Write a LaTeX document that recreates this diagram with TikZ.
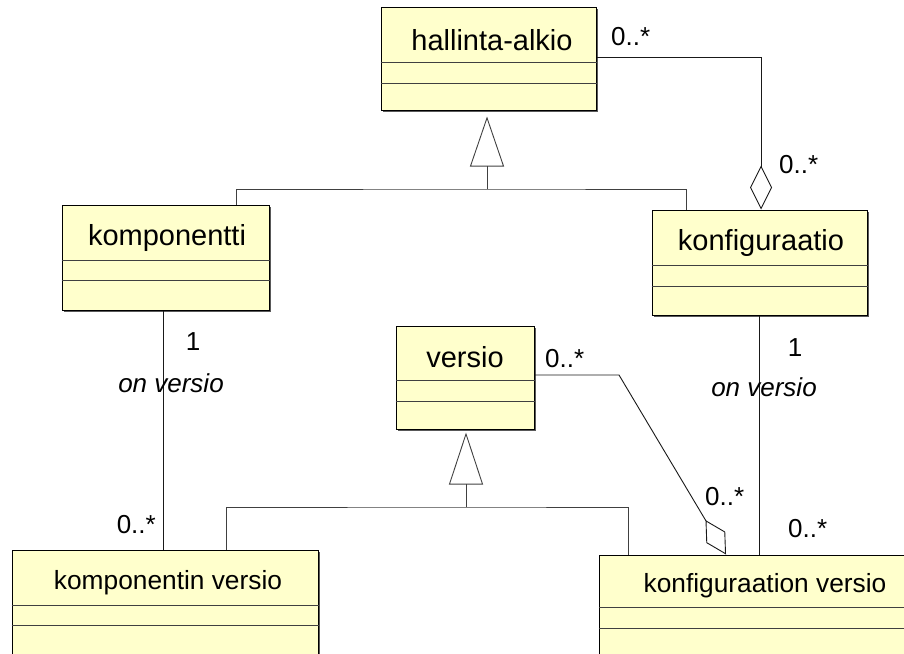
\documentclass[tikz,border=0pt]{standalone}
\usepackage{fontspec}
\setmainfont{Liberation Sans}
\usetikzlibrary{arrows.meta,shadows}

\definecolor{umlfill}{RGB}{255,255,204}

\tikzset{
  classbox/.style={draw=black, line width=1pt, fill=umlfill, inner sep=0pt,
    drop shadow={shadow xshift=1.5pt, shadow yshift=-1.5pt, opacity=1, fill=black!65}},
  compline/.style={draw=black!75, line width=0.9pt},
  classname/.style={anchor=base, inner sep=0pt, font=\fontsize{29}{35}\selectfont},
  smallname/.style={classname, font=\fontsize{26.3}{32}\selectfont},
  mult/.style={inner sep=0pt, font=\fontsize{26}{31}\selectfont},
  role/.style={inner sep=0pt, font=\fontsize{26}{31}\selectfont\itshape},
  assoc/.style={draw=black!90, line width=0.9pt},
  genline/.style={draw=black!75, line width=0.9pt},
}

% class box with two empty compartments: name, centre x, centre y, width, height, first and second divider offsets
\newcommand\umlclassbox[7]{%
  \node[classbox, minimum width=#4pt, minimum height=#5pt] (#1) at (#2,#3) {};
  \draw[compline] ([yshift=-#6pt]#1.north west) -- ([yshift=-#6pt]#1.north east);
  \draw[compline] ([yshift=-#7pt]#1.north west) -- ([yshift=-#7pt]#1.north east);
}

\begin{document}
\begin{tikzpicture}[x=1pt,y=-1pt]
\useasboundingbox (0,0) rectangle (904,653);

% classes
\umlclassbox{hal}{488.5}{58.5}{215}{103}{56}{77}
\umlclassbox{komp}{165.5}{257.5}{207}{105}{56}{76}
\umlclassbox{konf}{759.5}{262.5}{215}{105}{56}{77}
\umlclassbox{ver}{465}{377.5}{138}{103}{55}{76}
\umlclassbox{kver}{165}{625}{306}{150}{56}{76}
\umlclassbox{fver}{799.5}{627.5}{401}{145}{53}{74}

\node[classname] (halT) at (492,50) {hallinta-alkio};
\node[classname] (kompT) at (167,245) {komponentti};
\node[classname] (konfT) at (761,250) {konfiguraatio};
\node[classname] (verT) at (465,367) {versio};
\node[smallname] (kverT) at (168,589) {komponentin versio};
\node[smallname] (fverT) at (765,592) {konfiguraation versio};

% generalisation: komponentti, konfiguraatio -> hallinta-alkio
\coordinate (g1) at (236,0);
\coordinate (g2) at (686,0);
\coordinate (hj) at (487,189);
\draw[genline] (komp.north -| g1) |- (hj) -| (konf.north -| g2);
\draw[genline, -{Triangle[open, length=50pt, width=34pt]}, shorten >=6pt] (hj) -- (hj |- hal.south);

% generalisation: komponentin versio, konfiguraation versio -> versio
\coordinate (g3) at (226,0);
\coordinate (g4) at (628,0);
\coordinate (vj) at (466,507);
\draw[genline] (kver.north -| g3) |- (vj) -| (fver.north -| g4);
\draw[genline, -{Triangle[open, length=52pt, width=34pt]}, shorten >=3pt] (vj) -- (vj |- ver.south);

% associations
\coordinate (a1) at (163.5,0);
\draw[assoc] (komp.south -| a1) -- (kver.north -| a1);
\draw[assoc] (konf.south) -- (konf.south |- fver.north);
\draw[assoc, -{Diamond[open, length=44pt, width=22pt]}] ([yshift=1.5pt]hal.east) -| ([xshift=1.5pt]konf.north);
\coordinate (vb) at (619,375);
\coordinate (dt) at (726,0);
\draw[assoc, -{Diamond[open, length=40pt, width=22pt]}] ([yshift=2.5pt]ver.east) -- (vb) -- (fver.north -| dt);

% multiplicities and roles
\node[mult, anchor=base west] (m1) at (611,45) {0..*};
\node[mult, anchor=base west] (m2) at (779,173) {0..*};
\node[mult, anchor=base] (m3) at (193,350) {1};
\node[role, anchor=base] (r1) at (171,392) {on versio};
\node[mult, anchor=base] (m4) at (795,356) {1};
\node[role, anchor=base] (r2) at (764,396) {on versio};
\node[mult, anchor=base east] (m5) at (156,533) {0..*};
\node[mult, anchor=base west] (m6) at (545,367) {0..*};
\node[mult, anchor=base west] (m7) at (705,505) {0..*};
\node[mult, anchor=base west] (m8) at (788,537) {0..*};
\end{tikzpicture}
\end{document}
